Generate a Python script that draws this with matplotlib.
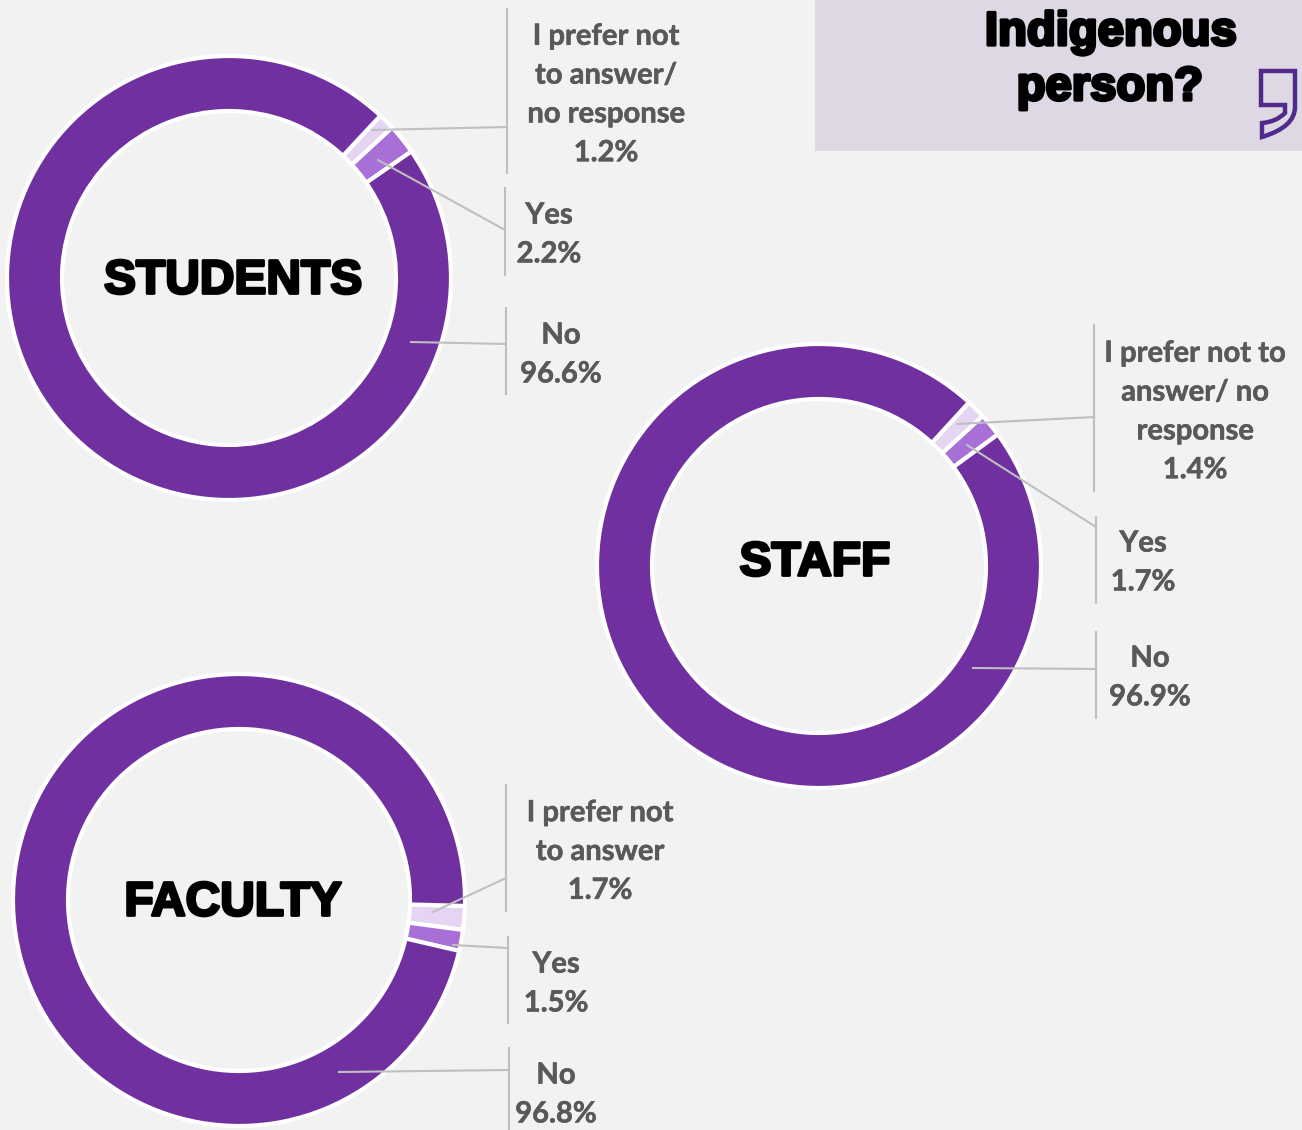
import matplotlib
matplotlib.use('Agg')

import matplotlib.pyplot as plt
import matplotlib.patheffects as pe
from matplotlib.patches import PathPatch, Rectangle
from matplotlib.path import Path

W, H = 1302, 1130

# values, clockwise from the small slices round to No
students = [1.2, 2.2, 96.6]
staff = [1.4, 1.7, 96.9]
faculty = [1.7, 1.5, 96.8]
slice_colors = ['#E6D5F2', '#A86FD6', '#7030A0']

students_labels = ['I prefer not\nto answer/\nno response\n1.2%', 'Yes\n2.2%', 'No\n96.6%']
staff_labels = ['I prefer not to\nanswer/ no\nresponse\n1.4%', 'Yes\n1.7%', 'No\n96.9%']
faculty_labels = ['I prefer not\nto answer\n1.7%', 'Yes\n1.5%', 'No\n96.8%']

title_lines = ['Indigenous', 'person?']


def fy(y):
    # everything below was measured from the top of the picture
    return H - y


fig = plt.figure(figsize=(W / 100, H / 100), dpi=100, facecolor='#F2F2F2')
ax = fig.add_axes([0, 0, 1, 1])


def donut(values, cx, cy, r, width, start_cw, name, name_xy, labels, label_xy, callouts):
    ax.pie(values, colors=slice_colors, center=(cx, fy(cy)), radius=r,
           startangle=90 - start_cw, counterclock=False,
           wedgeprops=dict(width=width, edgecolor='white', linewidth=3))
    ax.text(name_xy[0], fy(name_xy[1] + 3), name, ha='center', va='center', fontsize=34.5,
            family='Liberation Sans', weight='bold', color='black',
            path_effects=[pe.withStroke(linewidth=2, foreground='black')])
    for text, (x, y) in zip(labels, label_xy):
        ax.text(x, fy(y + 2), text, ha='center', va='center', fontsize=21, family='Lato',
                weight='bold', color='#595959', linespacing=1.61, zorder=6,
                path_effects=[pe.withStroke(linewidth=0.4, foreground='#595959')])
    for (x0, y0), (x1, y1), (y2, y3) in callouts:
        ax.plot([x0, x1], [fy(y0), fy(y1)], color='#BFBFBF', lw=1.5, zorder=5)
        ax.plot([x1, x1], [fy(y2), fy(y3)], color='#BFBFBF', lw=1.5, zorder=5)


donut(students, 229, 278, 222, 55, 43, 'STUDENTS', (233, 278), students_labels,
      [(606, 93), (549, 233), (561, 353)],
      [((372, 130), (507, 127), (9, 173)),
       ((378, 160), (505, 230), (188, 275)),
       ((411, 342), (506, 344), (308, 394))])
donut(staff, 819, 566, 222, 55, 42.5, 'STAFF', (815, 560), staff_labels,
      [(1195, 410), (1143, 561), (1150, 676)],
      [((957, 424), (1094, 417), (325, 491)),
       ((967, 445), (1096, 527), (517, 603)),
       ((973, 668), (1096, 669), (632, 718))])
donut(faculty, 239, 900, 226, 55, 91.5, 'FACULTY', (233, 900), faculty_labels,
      [(600, 850), (556, 982), (556, 1093)],
      [((433, 912), (506, 878), (785, 911)),
       ((453, 945), (508, 948), (937, 1023)),
       ((339, 1072), (509, 1070), (1048, 1130))])

# title box
ax.add_patch(Rectangle((815, fy(151)), W - 815, 151, facecolor='#DED8E5', edgecolor='none', zorder=1))
for line, x, y in zip(title_lines, [1111, 1110], [33, 88]):
    ax.text(x, fy(y), line, ha='center', va='center', fontsize=34, family='Liberation Sans',
            weight='bold', color='black', zorder=6,
            path_effects=[pe.withStroke(linewidth=2.4, foreground='black')])

# quote mark outline
verts = [(1261, 71), (1295, 71), (1295, 107), (1295, 127), (1262, 137), (1262, 137), (1262, 123),
         (1276, 122), (1285, 113), (1285, 105), (1261, 105), (1261, 71)]
codes = [Path.MOVETO, Path.LINETO, Path.LINETO, Path.CURVE3, Path.CURVE3, Path.LINETO, Path.LINETO,
         Path.CURVE3, Path.CURVE3, Path.LINETO, Path.LINETO, Path.CLOSEPOLY]
ax.add_patch(PathPatch(Path([(x, fy(y)) for x, y in verts], codes), facecolor='none',
                       edgecolor='#4F2A8A', lw=3.2, joinstyle='miter', zorder=6))

ax.set_xlim(0, W)
ax.set_ylim(0, H)
ax.set_aspect('equal')
ax.axis('off')
fig.savefig('out.png', dpi=100, facecolor=fig.get_facecolor())
plt.close(fig)
